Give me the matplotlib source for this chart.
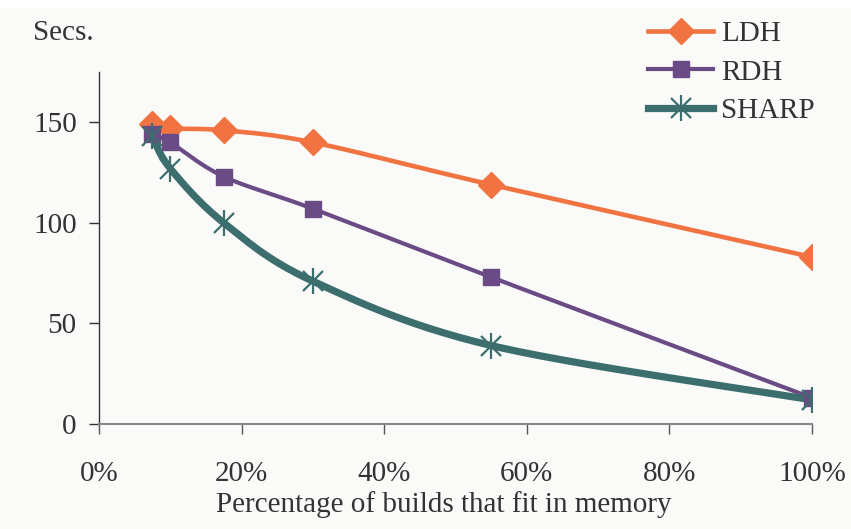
import numpy as np
import matplotlib
matplotlib.use("Agg")
import matplotlib.pyplot as plt
from matplotlib.lines import Line2D
from matplotlib.legend_handler import HandlerTuple

# Share of builds fitting in memory (%) and run time (seconds)
pct_fit = [7.5, 10, 17.5, 30, 55, 100]
ldh = [149, 147, 146, 140, 119, 83]
rdh = [144, 140, 123, 107, 73, 13]
sharp = [143, 127, 100, 71, 39, 12]

x_ticks = [0, 20, 40, 60, 80, 100]
x_tick_labels = ["0%", "20%", "40%", "60%", "80%", "100%"]
y_ticks = [0, 50, 100, 150]

plt.rcParams["font.family"] = ["Liberation Serif", "DejaVu Serif"]

BG = "#FAFAF8"
FS = 21
TXT = "#333333"
fig = plt.figure(figsize=(8.51, 5.29), dpi=100, facecolor=BG)
fig.patches.append(plt.Rectangle((0, 0.987), 1, 0.013, transform=fig.transFigure,
                                 color="white", zorder=0))
ax = fig.add_axes([0.1163, 0.1985, 0.8379, 0.6654])
ax.set_facecolor(BG)
ax.set_xlim(0, 100)
ax.set_ylim(0, 175)


def smooth(xs, ys, n=30):
    """Cubic Bezier smoothing through the points (tension 1/6), in axes-pixel space."""
    sx = ax.bbox.width / 100.0
    sy = ax.bbox.height / 175.0
    p = np.column_stack([np.asarray(xs, float) * sx, np.asarray(ys, float) * sy])
    out = [p[0]]
    m = len(p)
    for i in range(m - 1):
        p0 = p[i - 1] if i > 0 else p[i]
        p1, p2 = p[i], p[i + 1]
        p3 = p[i + 2] if i + 2 < m else p[i + 1]
        c1 = p1 + (p2 - p0) / 6.0
        c2 = p2 - (p3 - p1) / 6.0
        t = np.linspace(0, 1, n)[1:, None]
        seg = ((1 - t) ** 3) * p1 + 3 * ((1 - t) ** 2) * t * c1 + 3 * (1 - t) * t ** 2 * c2 + t ** 3 * p2
        out.extend(seg)
    out = np.array(out)
    return out[:, 0] / sx, out[:, 1] / sy


C_LDH, C_RDH, C_SHARP = "#F07341", "#6A4B85", "#3C6E6E"

# LDH: diamonds
cx, cy = smooth(pct_fit, ldh)
ax.plot(cx, cy, color=C_LDH, lw=3.3, solid_capstyle="round", zorder=2)
ax.plot(pct_fit, ldh, ls="none", marker="D", ms=13, color=C_LDH, zorder=3)
h_ldh = Line2D([], [], color=C_LDH, lw=3.3, marker="D", ms=13)

# RDH: squares
cx, cy = smooth(pct_fit, rdh)
ax.plot(cx, cy, color=C_RDH, lw=3.0, solid_capstyle="round", zorder=2)
ax.plot(pct_fit, rdh, ls="none", marker="s", ms=12, color=C_RDH, zorder=3)
h_rdh = Line2D([], [], color=C_RDH, lw=3.0, marker="s", ms=12)

# SHARP: star made of an x and a vertical bar
cx, cy = smooth(pct_fit, sharp)
ax.plot(cx, cy, color=C_SHARP, lw=5.2, solid_capstyle="round", zorder=2)
ax.plot(pct_fit, sharp, ls="none", marker="x", ms=14, mew=1.6, color=C_SHARP, zorder=3)
ax.plot(pct_fit, sharp, ls="none", marker="|", ms=19, mew=1.6, color=C_SHARP, zorder=3)
h_sharp = (Line2D([], [], color=C_SHARP, lw=5.2, marker="x", ms=14, mew=1.6),
           Line2D([], [], ls="none", color=C_SHARP, marker="|", ms=19, mew=1.6))

for side in ("top", "right"):
    ax.spines[side].set_visible(False)
ax.spines["left"].set_color("#333333")
ax.spines["bottom"].set_color("#888888")
ax.spines["left"].set_linewidth(1.0)
ax.spines["bottom"].set_linewidth(1.5)

ax.set_xticks(x_ticks)
ax.set_xticklabels(x_tick_labels)
ax.set_yticks(y_ticks)
ax.tick_params(axis="x", direction="out", length=7, width=1, color="#555555",
               labelsize=FS, pad=20, labelcolor=TXT)
ax.tick_params(axis="y", direction="out", length=7, width=1, color="#333333",
               labelsize=FS, pad=9, labelcolor=TXT)

fig.text(444 / 851, 1 - 505 / 529, "Percentage of builds that fit in memory",
         ha="center", va="center", fontsize=FS, color=TXT)
fig.text(33 / 851, 1 - 33 / 529, "Secs.", ha="left", va="center",
         fontsize=FS, color=TXT)

leg = fig.legend([h_ldh, h_rdh, h_sharp], ["LDH", "RDH", "SHARP"], loc="upper left",
                 bbox_to_anchor=(628 / 851, 1 - 0 / 529), frameon=False,
                 fontsize=FS, handlelength=2.2, handletextpad=0.3,
                 labelspacing=0.42, labelcolor=TXT, borderaxespad=0.3,
                 handler_map={tuple: HandlerTuple(ndivide=1, pad=0)})

fig.savefig("out.png", dpi=100, facecolor=BG)
